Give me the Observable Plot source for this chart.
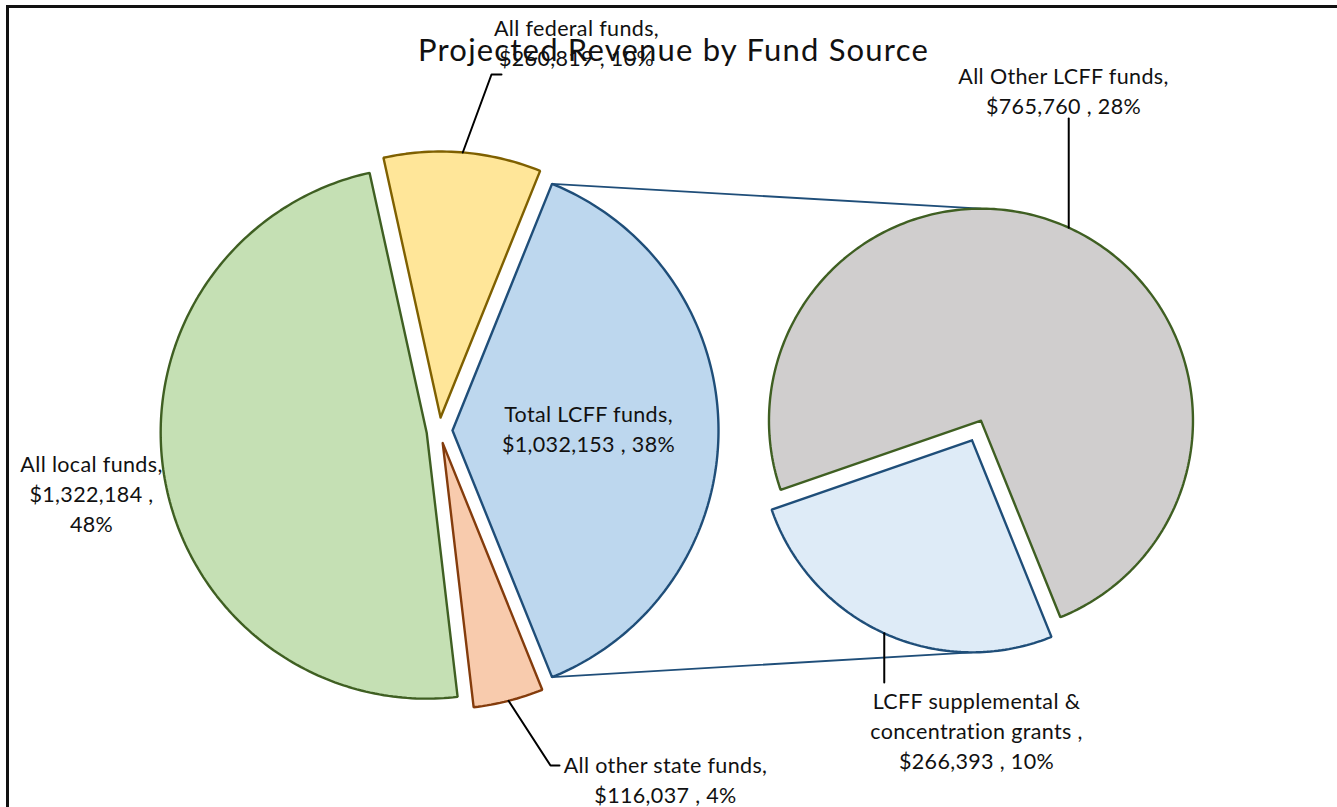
<!DOCTYPE html>
<html><head><meta charset="utf-8">
<script src="https://cdn.jsdelivr.net/npm/d3@7"></script>
<script src="https://cdn.jsdelivr.net/npm/@observablehq/plot@0.6"></script>
<style>
html,body{margin:0;padding:0;background:#fff;}
#wrap{position:relative;width:1337px;height:807px;overflow:hidden;}
#wrap svg{position:absolute;left:0;top:0;}
#frame{position:absolute;left:6px;top:5px;right:-10px;bottom:-10px;border-top:3px solid #111;border-left:3px solid #111;pointer-events:none;}
</style></head><body><div id="wrap"><div id="frame"></div></div>
<script>
// ---- data ----
const title = "Projected Revenue by Fund Source";
const categories = ["Total LCFF funds", "All other state funds", "All local funds", "All federal funds"];
const values = [1032153, 116037, 1322184, 260819];
const subCategories = ["LCFF supplemental & concentration grants", "All Other LCFF funds"];
const subValues = [266393, 765760];

// ---- styles ----
const mainFill = ["#bdd7ee", "#f8cbad", "#c5e0b4", "#ffe699"];
const mainStroke = ["#1f4e79", "#843c0c", "#3f5f22", "#7f6000"];
const subFill = ["#deebf7", "#d0cece"];
const subStroke = ["#1f4e79", "#3f5f22"];
const FONT = "Lato, 'Open Sans', sans-serif";

// ---- geometry helpers ----
const rad = d => d * Math.PI / 180;
const pt = (c, r, a) => [c[0] + r * Math.sin(rad(a)), c[1] - r * Math.cos(rad(a))];
function slices(vals, center, r, start, explode) {
  const tot = d3.sum(vals);
  let a = start;
  return vals.map((v, i) => {
    const span = 360 * v / tot, a0 = a, a1 = a + span; a = a1;
    const mid = (a0 + a1) / 2;
    const c = pt(center, explode, mid);
    const pts = [c];
    const n = Math.max(2, Math.ceil(span));
    for (let k = 0; k <= n; k++) pts.push(pt(c, r, a0 + span * k / n));
    pts.push(c);
    return {i, v, a0, a1, mid, c, r, pts: pts.map(([x, y]) => ({x, y}))};
  });
}

const total = d3.sum(values);
const R1 = 266, C1 = [439, 430];
const R2 = 212, C2 = [976, 430];
const lcffSpan = 360 * values[0] / total;
const main = slices(values, C1, R1, 90 - lcffSpan / 2, 13);
const sub = slices(subValues, C2, R2, 158, 10.8);

const fmt = d3.format(",");
const pct = v => d3.format(".0%")(v / total);

const marks = [];
// connector lines from combined slice to second pie
const L = main[0];
const conn = [
  [pt(L.c, R1, L.a0), pt(sub[1].c, R2, 360)],
  [pt(L.c, R1, L.a1), pt(sub[0].c, R2, 180)]
];
conn.forEach(seg => marks.push(Plot.line(seg.map(([x, y]) => ({x, y})), {x: "x", y: "y", stroke: "#1f4e79", strokeWidth: 1.8})));

main.forEach(s => marks.push(Plot.line(s.pts, {x: "x", y: "y", fill: mainFill[s.i], stroke: mainStroke[s.i], strokeWidth: 2.4, strokeLinejoin: "miter"})));
sub.forEach(s => marks.push(Plot.line(s.pts, {x: "x", y: "y", fill: subFill[s.i], stroke: subStroke[s.i], strokeWidth: 2.4, strokeLinejoin: "miter"})));

// leader lines
const fed = main[3], st = main[1], supp = sub[0], oth = sub[1];
const fedA = pt(fed.c, R1, fed.mid), stA = pt(st.c, R1, st.mid), suA = pt(supp.c, R2, supp.mid), otA = pt(oth.c, R2, oth.mid);
const leaders = [
  [fedA, [491, 74], [501, 74]],
  [stA, [550, 765], [559, 765]],
  [suA, [suA[0], 682]],
  [otA, [otA[0], 118]]
];
leaders.forEach(l => marks.push(Plot.line(l.map(([x, y]) => ({x, y})), {x: "x", y: "y", stroke: "#000", strokeWidth: 2})));

// labels
const labels = [
  {x: 576, y: 41, text: `${categories[3]},\n$${fmt(values[3])} , ${pct(values[3])}`},
  {x: 91, y: 492, text: `${categories[2]},\n$${fmt(values[2])} ,\n${pct(values[2])}`},
  {x: 665, y: 778, text: `${categories[1]},\n$${fmt(values[1])} , ${pct(values[1])}`},
  {x: 588, y: 427, text: `${categories[0]},\n$${fmt(values[0])} , ${pct(values[0])}`},
  {x: 1063, y: 89, text: `${subCategories[1]},\n$${fmt(subValues[1])} , ${pct(subValues[1])}`},
  {x: 976, y: 729, text: `${subCategories[0].replace("& ", "&\n")} ,\n$${fmt(subValues[0])} , ${pct(subValues[0])}`}
];
marks.push(Plot.text(labels, {x: "x", y: "y", text: "text", fontSize: 21.5, fontFamily: FONT, lineHeight: 1.4, fill: "#111", textAnchor: "middle"}));
marks.push(Plot.text([{x: 673, y: 51, text: title}], {x: "x", y: "y", text: "text", fontSize: 31, fontFamily: FONT, fill: "#111", textAnchor: "middle"}));

const chart = Plot.plot({
  width: 1337, height: 807,
  margin: 0,
  x: {domain: [0, 1337], range: [0, 1337], axis: null},
  y: {domain: [0, 807], range: [0, 807], axis: null},
  style: {background: "transparent", fontFamily: FONT},
  marks
});
d3.select(chart).selectAll("text").each(function () {
  const t = this.textContent;
  if (t === title) this.setAttribute("letter-spacing", "1.2");
  else this.setAttribute("letter-spacing", "0.35");
});
document.getElementById("wrap").insertBefore(chart, document.getElementById("frame"));
</script>
</body></html>
